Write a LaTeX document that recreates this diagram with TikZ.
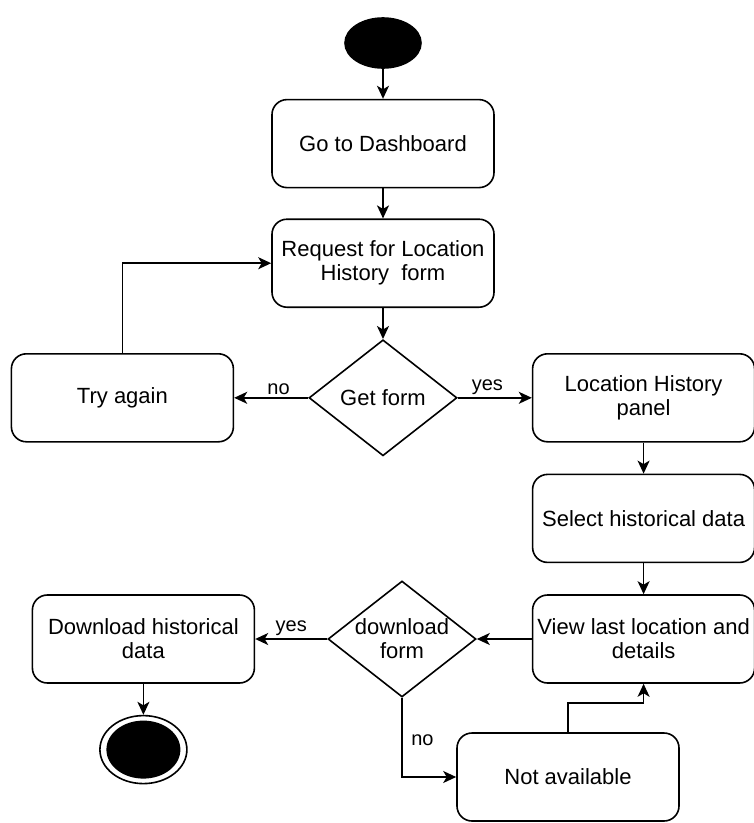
\documentclass[tikz,border=0pt]{standalone}
\usepackage{fontspec}
\setmainfont{Liberation Sans}
\usetikzlibrary{shapes.geometric, positioning, arrows.meta}

\begin{document}
\begin{tikzpicture}[x=1pt, y=-1pt, line width=1.6pt,
        >={Stealth[length=13pt, width=12pt, inset=3.5pt]},
        font=\fontsize{22}{24}\selectfont,
        activity/.style={draw, rounded corners=15pt, minimum width=222pt, minimum height=88pt, align=center, inner sep=2pt},
        decision/.style={draw, diamond, aspect=1.25, inner sep=0pt, minimum width=148pt, minimum height=116pt, align=center},
        guard/.style={font=\fontsize{20}{22}\selectfont, inner sep=2.5pt}]
        \useasboundingbox (0,0) rectangle (754,823);

        % start and actions
        \node[ellipse, draw, fill=black, minimum width=76pt, minimum height=50pt, inner sep=0pt] (start) at (383,43) {};
        \node[activity, below=30pt of start] (dash) {Go to Dashboard};
        \node[activity, below=30pt of dash] (req) {Request for Location\\History~ form};
        \node[decision, below=31pt of req] (get) {Get form};
        \node[activity, left=74pt of get] (try) {Try again};
        \node[activity, right=74pt of get] (panel) {Location History\\panel};
        \node[activity, below=31pt of panel] (select) {Select historical data};
        \node[activity, below=31pt of select] (view) {View last location and\\details};
        \node[decision, left=55pt of view] (dl) {download\\form};
        \node[activity, left=72pt of dl] (dload) {Download historical\\data};
        \node[activity] (na) at (568,777) {Not available};

        % end node
        \node[ellipse, draw, minimum width=87pt, minimum height=68pt, below=31pt of dload] (stop) {};
        \node[ellipse, fill=black, minimum width=74pt, minimum height=58pt] (stopdot) at (stop) {};

        % flows
        \draw[->] (start) -- (dash);
        \draw[->] (dash) -- (req);
        \draw[->] (req) -- (get);
        \draw[->] (get) -- node[guard, above, pos=0.4] {no} (try);
        \draw[->] (get) -- node[guard, above, pos=0.4] {yes} (panel);
        \draw[->] (try.north) |- (req.west);
        \draw[->] (panel) -- (select);
        \draw[->] (select) -- (view);
        \draw[->] (view) -- (dl);
        \draw[->] (dl) -- node[guard, above, pos=0.5] {yes} (dload);
        \draw[->] (dload) -- (stop);
        \draw[->] (dl.south) |- node[guard, right, pos=0.27, xshift=6pt] {no} (na.west);
        \draw[->] (na.north) -- ++(0,-29) -| (view.south);
    \end{tikzpicture}
\end{document}
